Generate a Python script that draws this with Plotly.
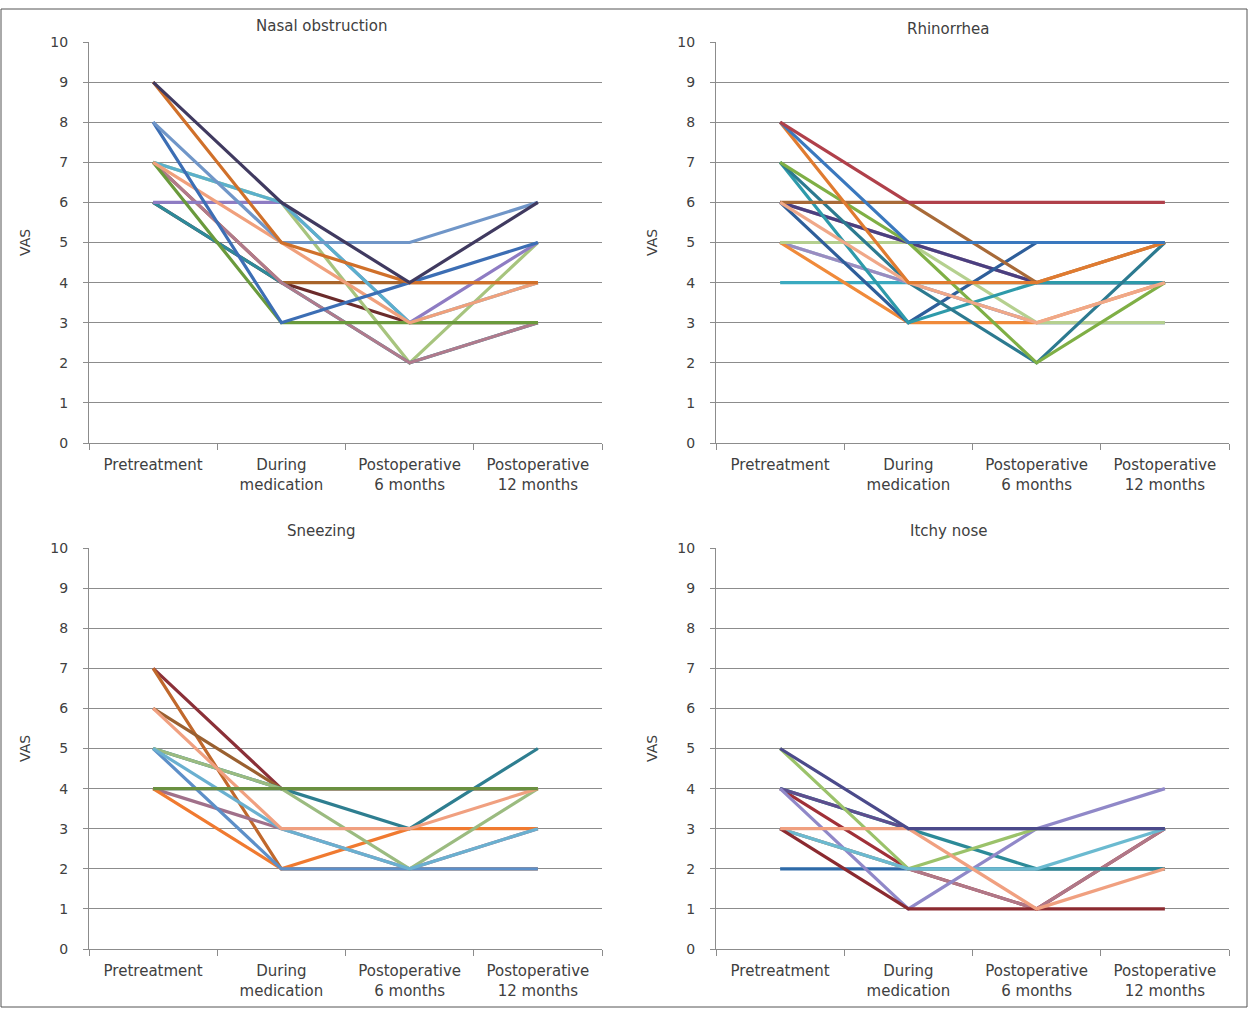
import plotly.graph_objects as go

categories = ["Pretreatment", "During<br>medication", "Postoperative<br>6 months", "Postoperative<br>12 months"]
y_ticks = list(range(0, 11))

panel_titles = ["Nasal obstruction", "Rhinorrhea", "Sneezing", "Itchy nose"]

# Panel 1: Nasal obstruction (color, values)
nasal_colors = ["#6B2B2B", "#A8642A", "#A7C47E", "#2E8A9A", "#B07A8C", "#8E7CC3",
                "#5BB0CC", "#6A9A3C", "#F0A07C", "#3C6EB4", "#7096C8", "#D0702A", "#403A60"]
nasal_values = [
    [6, 4, 3, 3],
    [7, 4, 4, 4],
    [7, 6, 2, 5],
    [6, 4, 2, 3],
    [7, 4, 2, 3],
    [6, 6, 3, 5],
    [7, 6, 3, 4],
    [7, 3, 3, 3],
    [7, 5, 3, 4],
    [8, 3, 4, 5],
    [8, 5, 5, 6],
    [9, 5, 4, 4],
    [9, 6, 4, 6],
]

# Panel 2: Rhinorrhea
rhino_colors = ["#3AAAC0", "#8CC4DA", "#9A8CC0", "#F08A3A", "#B5D08F", "#B78A9A", "#4A3F80",
                "#2E5E9A", "#2E9AAA", "#2C7A90", "#7FAF45", "#A86A38", "#F0A888",
                "#E07B30", "#3A78BE", "#B0404A"]
rhino_values = [
    [4, 4, 4, 4],
    [5, 4, 3, 3],
    [5, 4, 3, 3],
    [5, 3, 3, 4],
    [5, 5, 3, 3],
    [6, 5, 4, 4],
    [6, 5, 4, 4],
    [6, 3, 5, 5],
    [7, 3, 4, 4],
    [7, 4, 2, 5],
    [7, 5, 2, 4],
    [6, 6, 4, 5],
    [6, 4, 3, 4],
    [8, 4, 4, 5],
    [8, 5, 5, 5],
    [8, 6, 6, 6],
]

# Panel 3: Sneezing
sneeze_colors = ["#2F3F7A", "#8B3038", "#C0682C", "#9A6030", "#A0708A", "#F07A30",
                 "#5D8FC8", "#2E7E90", "#9BBB80", "#6AB0D0", "#F0A080", "#6A9040"]
sneeze_values = [
    [4, 4, 4, 4],
    [7, 4, 4, 4],
    [7, 2, 2, 2],
    [6, 4, 4, 4],
    [4, 3, 2, 3],
    [4, 2, 3, 3],
    [5, 2, 2, 2],
    [5, 4, 3, 5],
    [5, 4, 2, 4],
    [5, 3, 2, 3],
    [6, 3, 3, 4],
    [4, 4, 4, 4],
]

# Panel 4: Itchy nose
itchy_colors = ["#B5D08F", "#2E6AA8", "#A03038", "#B07888", "#2C8A98", "#5E4E8E",
                "#9088C8", "#9BC26A", "#6BBAD0", "#8B2A30", "#F0A080", "#4B4A8A"]
itchy_values = [
    [3, 2, 2, 2],
    [2, 2, 2, 2],
    [4, 2, 1, 3],
    [3, 2, 1, 3],
    [4, 3, 2, 2],
    [4, 3, 3, 3],
    [4, 1, 3, 4],
    [5, 2, 3, 3],
    [3, 2, 2, 3],
    [3, 1, 1, 1],
    [3, 3, 1, 2],
    [5, 3, 3, 3],
]

panels = [
    (nasal_colors, nasal_values),
    (rhino_colors, rhino_values),
    (sneeze_colors, sneeze_values),
    (itchy_colors, itchy_values),
]

W = 1249
# the rendered figure occupies ~1000 px of height starting ~8 px from the top
HY, Y0 = 1000.0, 8.0
FONT = "'DejaVu Sans', sans-serif"
TXT = "#404040"
GRID = "#8c8c8c"


def fy(px):
    """paper y fraction for a target pixel row (from top)."""
    return 1 - (px - Y0) / HY


# plot areas in target pixels (left, right, top, bottom)
areas = [(89, 602, 42, 443), (716, 1229, 42, 443), (89, 602, 548, 949), (716, 1229, 548, 949)]
title_pos = [(321, 26), (948, 29), (321, 531), (948, 531)]
vas_pos = [(25, 243), (652, 243), (25, 749), (652, 749)]

fig = go.Figure()
layout = dict(
    autosize=True,
    margin=dict(l=0, r=0, t=0, b=0),
    paper_bgcolor="white", plot_bgcolor="white",
    showlegend=False,
    font=dict(family=FONT, color=TXT, size=14),
)
annotations = []
for i, ((colors, values), (l, r, t, b)) in enumerate(zip(panels, areas)):
    ax = "" if i == 0 else str(i + 1)
    for c, v in zip(colors, values):
        fig.add_trace(go.Scatter(x=categories, y=v, mode="lines",
                                 line=dict(color=c, width=3.2),
                                 xaxis="x" + ax, yaxis="y" + ax, hoverinfo="skip"))
    layout["xaxis" + ax] = dict(
        domain=[l / W, r / W], anchor="y" + ax, type="category",
        categoryorder="array", categoryarray=categories, range=[-0.5, 3.5],
        tickson="boundaries", ticks="outside", ticklen=6, tickcolor=GRID, tickwidth=1,
        showline=True, linecolor=GRID, linewidth=1, showgrid=False,
        tickfont=dict(family=FONT, size=15, color=TXT), ticklabelstandoff=8,
        fixedrange=True,
    )
    layout["yaxis" + ax] = dict(
        domain=[fy(b), fy(t)], anchor="x" + ax, range=[0, 10],
        tickvals=y_ticks, ticks="outside", ticklen=5, tickcolor=GRID,
        showline=True, linecolor=GRID, linewidth=1,
        showgrid=True, gridcolor=GRID, gridwidth=1, zeroline=False,
        tickfont=dict(family=FONT, size=14, color=TXT), ticklabelstandoff=12,
        fixedrange=True,
    )
    tx, ty = title_pos[i]
    annotations.append(dict(text=panel_titles[i], x=tx / W, y=fy(ty), xref="paper", yref="paper",
                            showarrow=False, xanchor="center", yanchor="middle",
                            font=dict(family=FONT, size=15, color=TXT)))
    vx, vy = vas_pos[i]
    annotations.append(dict(text="VAS", x=vx / W, y=fy(vy), xref="paper", yref="paper",
                            showarrow=False, xanchor="center", yanchor="middle", textangle=-90,
                            font=dict(family=FONT, size=14, color=TXT)))

layout["annotations"] = annotations
layout["shapes"] = [dict(type="rect", xref="paper", yref="paper",
                         x0=1 / W, x1=1 - 2 / W, y0=0.001, y1=0.999,
                         line=dict(color="#555555", width=1))]
fig.update_layout(**layout)
fig.write_html("out.html", config={"responsive": True, "displayModeBar": False},
               default_width="100vw", default_height="100vh")

with open("out.html", "r", encoding="utf-8") as f:
    html = f.read()
html = html.replace(
    "<head>",
    "<head><style>html,body{margin:0;padding:0;overflow:hidden;}"
    ".plotly-graph-div{position:absolute;top:0;left:0;}</style>", 1)
with open("out.html", "w", encoding="utf-8") as f:
    f.write(html)
